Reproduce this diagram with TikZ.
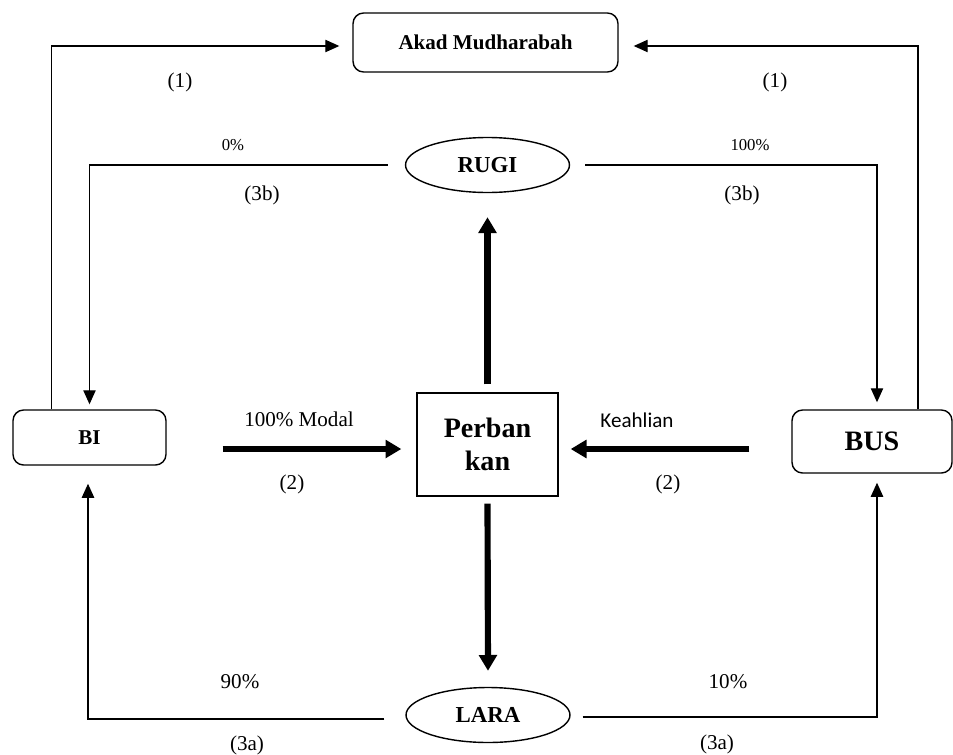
\documentclass[tikz,border=0pt]{standalone}
\usepackage{fontspec}
\setmainfont{Liberation Serif}
\newfontfamily\calibri{Carlito}
\usepackage{tikz}
\usetikzlibrary{arrows.meta,shapes.geometric}
\tikzset{
  box/.style={draw, line width=0.8pt, rounded corners=6pt, font=\bfseries\fontsize{12}{14}\selectfont, inner sep=0pt},
  oval/.style={draw, ellipse, line width=0.8pt, font=\bfseries\fontsize{13}{15}\selectfont, inner sep=0pt, minimum width=3.28cm, minimum height=1.1cm},
  flow/.style={line width=0.8pt, -{Triangle[length=8pt,width=7pt]}},
  bigflow/.style={line width=3.5pt, -{Triangle[length=9pt,width=10pt]}},
  lbl/.style={font=\fontsize{12}{14}\selectfont, inner sep=0pt},
  pct/.style={font=\fontsize{9.5}{11}\selectfont, inner sep=0pt}
}

\begin{document}
\begin{tikzpicture}[x=0.02cm, y=-0.02cm]
\useasboundingbox (0,0) rectangle (953,754);

% boxes
\node[box, minimum width=5.3cm, minimum height=1.18cm] (akad) at (485.5,42.5) {Akad Mudharabah};
\node[box, minimum width=3.06cm, minimum height=1.1cm] (bi) at (89.5,437.5) {BI};
\node[box, minimum width=3.2cm, minimum height=1.26cm, font=\bfseries\fontsize{16}{18}\selectfont] (bus) at (872,441.5) {BUS};
\node[draw, line width=0.8pt, minimum width=2.82cm, minimum height=2.06cm, align=center,
      font=\bfseries\fontsize{16}{19}\selectfont] (bank) at (487.5,444.5) {Perban\\kan};
\node[oval] (rugi) at (487.5,165) {RUGI};
\node[oval] (lara) at (488,715) {LARA};

% akad
\draw[flow] ([xshift=-0.76cm]bi.north) |- ([xshift=-0.26cm,yshift=-0.07cm]akad.west);
\draw[flow] ([xshift=0.92cm]bus.north) |- ([xshift=0.3cm,yshift=-0.07cm]akad.east);

% rugi
\draw[flow, shorten >=0.1cm] ([xshift=-0.34cm]rugi.west) -| (bi.north);
\draw[flow, shorten >=0.14cm] ([xshift=0.3cm]rugi.east) -| ([xshift=0.1cm]bus.north);

% laba
\draw[flow, shorten >=0.36cm] ([xshift=-0.42cm,yshift=-0.08cm]lara.west) -| ([xshift=-0.03cm]bi.south);
\draw[flow, shorten >=0.18cm] ([xshift=0.24cm,yshift=-0.04cm]lara.east) -| ([xshift=0.1cm]bus.south);

% modal dan keahlian
\draw[bigflow] ([xshift=1.12cm,yshift=-0.09cm]bi.east |- bank.west) -- ([xshift=-0.3cm,yshift=-0.09cm]bank.west);
\draw[bigflow] ([xshift=-0.84cm,yshift=-0.09cm]bus.west |- bank.east) -- ([xshift=0.24cm,yshift=-0.09cm]bank.east);
\draw[bigflow] ([yshift=0.16cm]bank.north) -- ([yshift=-0.48cm]rugi.south);
\draw[bigflow] ([yshift=-0.14cm]bank.south) -- ([yshift=0.32cm]lara.north);

% labels
\node[lbl] (l1a) at (180,82) {(1)};
\node[lbl] (l1b) at (775,82) {(1)};
\node[pct] (p0) at (233,145) {0\%};
\node[pct] (p100) at (750,145) {100\%};
\node[lbl] (l3b1) at (262,195) {(3b)};
\node[lbl] (l3b2) at (742,195) {(3b)};
\node[lbl] (modal) at (299,419) {100\% Modal};
\node[lbl, font=\calibri\fontsize{12}{14}\selectfont] (ahli) at (637,420) {Keahlian};
\node[lbl] (l2a) at (292,484) {(2)};
\node[lbl] (l2b) at (668,484) {(2)};
\node[lbl] (p90) at (240,682) {90\%};
\node[lbl] (p10) at (728,682) {10\%};
\node[lbl] (l3a1) at (247,745) {(3a)};
\node[lbl] (l3a2) at (717,744) {(3a)};
\end{tikzpicture}
\end{document}
